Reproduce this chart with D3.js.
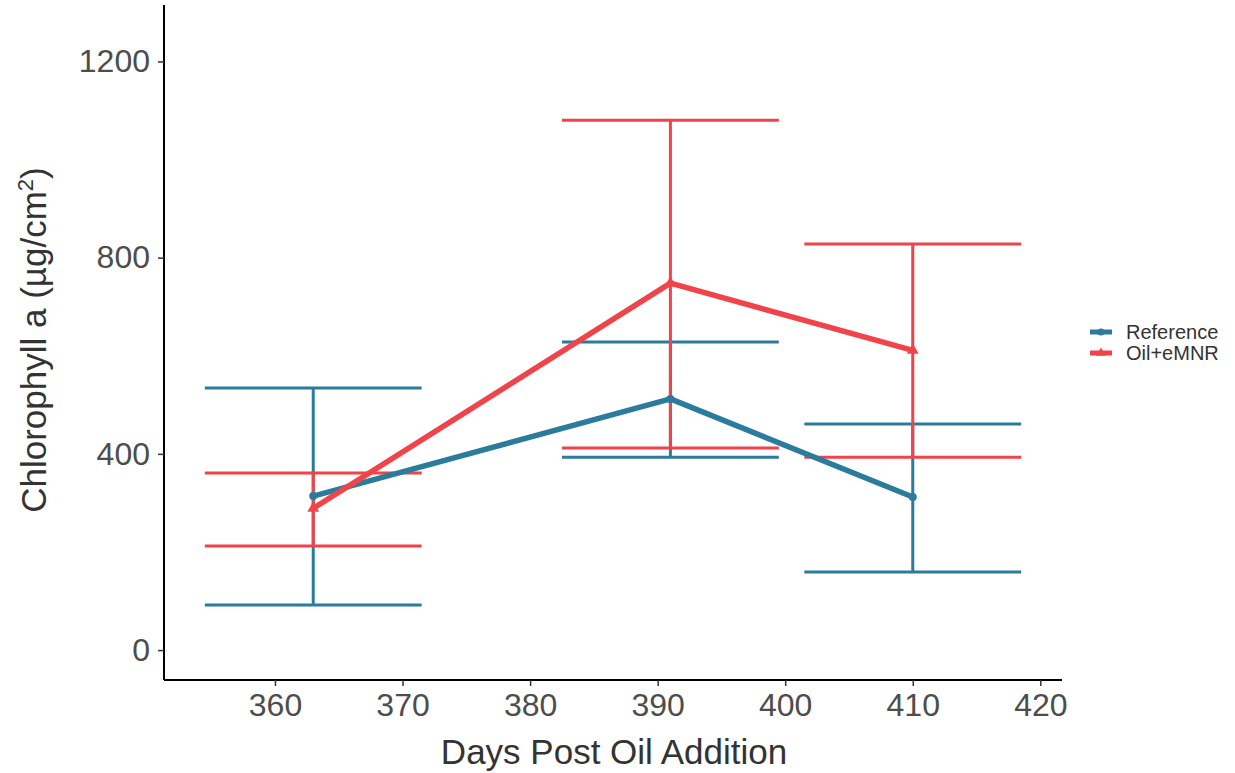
<!DOCTYPE html>
<html lang="en">
<head>
<meta charset="UTF-8">
<title>Chlorophyll a</title>
<script src="https://cdnjs.cloudflare.com/ajax/libs/d3/7.8.5/d3.min.js"></script>
<style>
body { margin: 0; background: #fff; }
svg text { font-family: "Liberation Sans", Arial, sans-serif; }
.tick text { font-size: 32px; fill: #4d4d4d; }
.axis-title { font-size: 35px; fill: #333; }
.legend-text { font-size: 20px; fill: #333; }
</style>
</head>
<body>
<div id="chart"></div>
<script>
// data
var days = [363, 391, 410];
var seriesNames = ['Reference', 'Oil+eMNR'];
var refMean = [314, 512, 312];
var refLow = [92, 393, 159];
var refHigh = [534, 628, 461];
var oilMean = [289, 748, 611];
var oilLow = [212, 412, 393];
var oilHigh = [361, 1080, 828];
var xTicks = [360, 370, 380, 390, 400, 410, 420];
var yTicks = [0, 400, 800, 1200];

var colors = { 'Reference': '#2b7b9c', 'Oil+eMNR': '#f0434a' };

var W = 1235, H = 773;
var margin = { left: 164, right: 1235 - 1062, top: 5, bottom: 773 - 680 };

var svg = d3.select('#chart').append('svg')
  .attr('width', W).attr('height', H);

var x = d3.scaleLinear().domain([351.3, 421.7]).range([margin.left, W - margin.right]);
var y = d3.scaleLinear().domain([-61, 1315]).range([H - margin.bottom, margin.top]);

var series = [
  { name: 'Reference', mean: refMean, low: refLow, high: refHigh },
  { name: 'Oil+eMNR', mean: oilMean, low: oilLow, high: oilHigh }
].map(function (s) {
  s.points = days.map(function (d, i) {
    return { day: d, mean: s.mean[i], low: s.low[i], high: s.high[i] };
  });
  return s;
});

var capHalf = 8.5; // in days

// error bars
series.forEach(function (s) {
  var g = svg.append('g').attr('stroke', colors[s.name]).attr('stroke-width', 3).attr('fill', 'none');
  s.points.forEach(function (p) {
    g.append('line').attr('x1', x(p.day)).attr('x2', x(p.day)).attr('y1', y(p.low)).attr('y2', y(p.high));
    g.append('line').attr('x1', x(p.day - capHalf)).attr('x2', x(p.day + capHalf)).attr('y1', y(p.high)).attr('y2', y(p.high));
    g.append('line').attr('x1', x(p.day - capHalf)).attr('x2', x(p.day + capHalf)).attr('y1', y(p.low)).attr('y2', y(p.low));
  });
});

// lines + points
var line = d3.line().x(function (d) { return x(d.day); }).y(function (d) { return y(d.mean); });
series.forEach(function (s) {
  svg.append('path').datum(s.points)
    .attr('d', line)
    .attr('fill', 'none')
    .attr('stroke', colors[s.name])
    .attr('stroke-width', 5.5)
    .attr('stroke-linejoin', 'round');
  var shape = s.name === 'Reference' ? d3.symbolCircle : d3.symbolTriangle;
  svg.append('g').selectAll('path').data(s.points).enter().append('path')
    .attr('transform', function (d) { return 'translate(' + x(d.day) + ',' + y(d.mean) + ')'; })
    .attr('d', d3.symbol().type(shape).size(s.name === 'Reference' ? 50 : 60))
    .attr('fill', colors[s.name]);
});

// axes
var xAxis = svg.append('g')
  .attr('transform', 'translate(0,' + (H - margin.bottom) + ')')
  .call(d3.axisBottom(x).tickValues(xTicks).tickFormat(d3.format('d')).tickSize(6).tickPadding(7));
var yAxis = svg.append('g')
  .attr('transform', 'translate(' + margin.left + ',0)')
  .call(d3.axisLeft(y).tickValues(yTicks).tickFormat(d3.format('d')).tickSize(6).tickPadding(8));

[xAxis, yAxis].forEach(function (a) {
  a.select('.domain').attr('stroke', '#000').attr('stroke-width', 2);
  a.selectAll('.tick line').attr('stroke', '#333').attr('stroke-width', 1.5);
});
xAxis.select('.domain').attr('d', 'M' + margin.left + ',0H' + (W - margin.right));
yAxis.select('.domain').attr('d', 'M0,' + margin.top + 'V' + (H - margin.bottom));

svg.append('text').attr('class', 'axis-title')
  .attr('x', 614).attr('y', 764)
  .attr('text-anchor', 'middle')
  .text('Days Post Oil Addition');

var yt = svg.append('text').attr('class', 'axis-title')
  .attr('transform', 'translate(46,' + 340 + ') rotate(-90)')
  .attr('text-anchor', 'middle');
yt.append('tspan').text('Chlorophyll a (µg/cm');
yt.append('tspan').attr('dy', -13).attr('font-size', 22).text('2');
yt.append('tspan').attr('dy', 13).text(')');

// legend
var legend = svg.append('g').attr('transform', 'translate(1090,332)');
seriesNames.forEach(function (name, i) {
  var g = legend.append('g').attr('transform', 'translate(0,' + (i * 21) + ')');
  g.append('line').attr('x1', 0).attr('x2', 22).attr('y1', 0).attr('y2', 0)
    .attr('stroke', colors[name]).attr('stroke-width', 5);
  g.append('path').attr('transform', 'translate(11,0)')
    .attr('d', d3.symbol().type(name === 'Reference' ? d3.symbolCircle : d3.symbolTriangle).size(40))
    .attr('fill', colors[name]);
  g.append('text').attr('class', 'legend-text').attr('x', 36).attr('y', 7).text(name);
});
</script>
</body>
</html>
